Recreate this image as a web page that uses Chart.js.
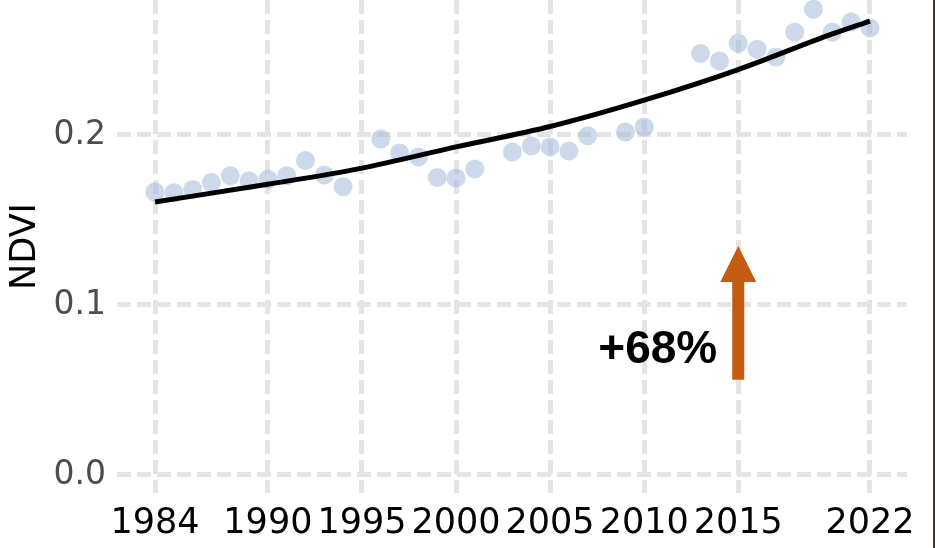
<!DOCTYPE html>
<html>
<head>
<meta charset="utf-8">
<style>
    html, body { margin: 0; padding: 0; background: #ffffff; }
    #wrap { position: relative; width: 935px; height: 548px; }
    #edge { position: absolute; right: 0; top: 0; width: 2px; height: 548px; background: #3d352d; }
</style>
<script src="https://cdn.jsdelivr.net/npm/chart.js"></script>
</head>
<body>
<div id="wrap">
    <canvas id="ndvi-chart" width="935" height="548"></canvas>
    <div id="edge"></div>
</div>
<script>
    // yearly NDVI observations (gaps where no scene was available)
    const obsYears = [1984, 1985, 1986, 1987, 1988, 1989, 1990, 1991, 1992, 1993, 1994,
        1996, 1997, 1998, 1999, 2000, 2001, 2003, 2004, 2005, 2006, 2007, 2009, 2010,
        2013, 2014, 2015, 2016, 2017, 2018, 2019, 2020, 2021, 2022];
    const obsNdvi = [0.1665, 0.166, 0.168, 0.172, 0.176, 0.173, 0.174, 0.176, 0.185, 0.1765, 0.1695,
        0.1976, 0.1894, 0.187, 0.175, 0.1747, 0.18, 0.19, 0.1935, 0.193, 0.1906, 0.1996, 0.2018, 0.2047,
        0.248, 0.2435, 0.254, 0.2505, 0.2458, 0.2605, 0.274, 0.2605, 0.2665, 0.263];

    // fitted trend
    const trendYears = [1984, 1990, 1995, 2000, 2005, 2010, 2015, 2020, 2022];
    const trendNdvi = [0.1606, 0.171, 0.1805, 0.193, 0.205, 0.2205, 0.2385, 0.2595, 0.267];

    const xTicks = [1984, 1990, 1995, 2000, 2005, 2010, 2015, 2022];
    const yTicks = [0.0, 0.1, 0.2];

    const arrowYear = 2015;
    const arrowFrom = 0.056;
    const arrowTo = 0.1347;
    const changeLabel = '+68%';
    const changeLabelY = 0.0732;

    const arrowPlugin = {
        id: 'changeArrow',
        afterDatasetsDraw(chart) {
            const ctx = chart.ctx;
            const x = chart.scales.x.getPixelForValue(arrowYear);
            const yBottom = chart.scales.y.getPixelForValue(arrowFrom);
            const yTop = chart.scales.y.getPixelForValue(arrowTo);
            const headLen = 36, headHalf = 18, shaftHalf = 6;
            ctx.save();
            ctx.fillStyle = '#c55a11';
            ctx.beginPath();
            ctx.moveTo(x - shaftHalf, yBottom);
            ctx.lineTo(x - shaftHalf, yTop + headLen);
            ctx.lineTo(x - headHalf, yTop + headLen);
            ctx.lineTo(x, yTop);
            ctx.lineTo(x + headHalf, yTop + headLen);
            ctx.lineTo(x + shaftHalf, yTop + headLen);
            ctx.lineTo(x + shaftHalf, yBottom);
            ctx.closePath();
            ctx.fill();

            ctx.fillStyle = '#000000';
            ctx.font = 'bold 46px "Liberation Sans", Arial, sans-serif';
            ctx.textAlign = 'right';
            ctx.textBaseline = 'middle';
            ctx.fillText(changeLabel, x - 21, chart.scales.y.getPixelForValue(changeLabelY));
            ctx.restore();
        }
    };

    const gridColor = '#e4e4e4';

    // pin the panel edges so the plot matches the original frame
    function noScalePadding(scale) {
        scale.paddingTop = 0;
        scale.paddingBottom = 0;
        scale.paddingLeft = 0;
        scale.paddingRight = 0;
    }

    new Chart(document.getElementById('ndvi-chart'), {
        type: 'scatter',
        data: {
            datasets: [
                {
                    label: 'NDVI',
                    data: obsYears.map((yr, i) => ({ x: yr, y: obsNdvi[i] })),
                    backgroundColor: 'rgba(160, 185, 217, 0.55)',
                    borderWidth: 0,
                    pointRadius: 9.5,
                    order: 2
                },
                {
                    label: 'trend',
                    type: 'line',
                    data: trendYears.map((yr, i) => ({ x: yr, y: trendNdvi[i] })),
                    borderColor: '#000000',
                    borderWidth: 5,
                    pointRadius: 0,
                    fill: false,
                    cubicInterpolationMode: 'monotone',
                    order: 1
                }
            ]
        },
        options: {
            responsive: false,
            animation: false,
            events: [],
            layout: { autoPadding: false, padding: { left: 0, right: 28, top: 0, bottom: 0 } },
            plugins: {
                legend: { display: false },
                tooltip: { enabled: false }
            },
            scales: {
                x: {
                    type: 'linear',
                    min: 1981.98,
                    max: 2023.97,
                    afterBuildTicks: (scale) => { scale.ticks = xTicks.map(v => ({ value: v })); },
                    afterFit: (scale) => { scale.height = 55; noScalePadding(scale); },
                    grid: { color: gridColor, lineWidth: 5, drawTicks: false },
                    border: { display: false, dash: [14, 6] },
                    ticks: {
                        color: '#000000',
                        padding: 10,
                        maxRotation: 0,
                        font: { family: '"DejaVu Sans", sans-serif', size: 35 },
                        callback: (v) => String(v)
                    }
                },
                y: {
                    min: -0.0106,
                    max: 0.2794,
                    afterBuildTicks: (scale) => { scale.ticks = yTicks.map(v => ({ value: v })); },
                    afterFit: (scale) => { scale.width = 117; noScalePadding(scale); },
                    grid: { color: gridColor, lineWidth: 5, drawTicks: false },
                    border: { display: false, dash: [14, 6] },
                    title: {
                        display: true,
                        text: 'NDVI',
                        color: '#000000',
                        padding: { top: 5, bottom: 0 },
                        font: { family: '"DejaVu Sans", sans-serif', size: 35 }
                    },
                    ticks: {
                        color: '#4d4d4d',
                        padding: 11,
                        font: { family: '"DejaVu Sans", sans-serif', size: 33 },
                        callback: (v) => v.toFixed(1)
                    }
                }
            }
        },
        plugins: [arrowPlugin]
    });
</script>
</body>
</html>
